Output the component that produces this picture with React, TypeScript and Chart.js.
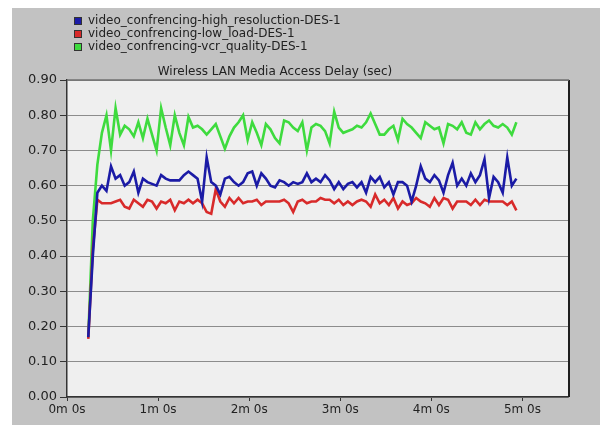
import { useEffect, useRef } from "react";
import { Chart, registerables } from "chart.js";

Chart.register(...registerables);

// Simulation time (seconds)
const times = [
  14, 17, 20, 23, 26, 29, 32, 35, 38, 41,
  44, 47, 50, 53, 56, 59, 62, 65, 68, 71,
  74, 77, 80, 83, 86, 89, 92, 95, 98, 101,
  104, 107, 110, 113, 116, 119, 122, 125, 128, 131,
  134, 137, 140, 143, 146, 149, 152, 155, 158, 161,
  164, 167, 170, 173, 176, 179, 182, 185, 188, 191,
  194, 197, 200, 203, 206, 209, 212, 215, 218, 221,
  224, 227, 230, 233, 236, 239, 242, 245, 248, 251,
  254, 257, 260, 263, 266, 269, 272, 275, 278, 281,
  284, 287, 290, 293, 296,
];

const highResolution = [
  0.17, 0.40, 0.58, 0.60, 0.585, 0.655, 0.62, 0.63, 0.60, 0.61,
  0.64, 0.58, 0.62, 0.61, 0.605, 0.60, 0.63, 0.62, 0.615, 0.615,
  0.615, 0.63, 0.64, 0.63, 0.62, 0.555, 0.68, 0.61, 0.60, 0.575,
  0.62, 0.625, 0.61, 0.60, 0.61, 0.635, 0.64, 0.60, 0.635, 0.62,
  0.60, 0.595, 0.615, 0.61, 0.60, 0.61, 0.605, 0.61, 0.635, 0.61,
  0.62, 0.61, 0.63, 0.615, 0.59, 0.61, 0.59, 0.605, 0.61, 0.595,
  0.61, 0.58, 0.625, 0.61, 0.625, 0.595, 0.61, 0.575, 0.61, 0.61,
  0.60, 0.555, 0.60, 0.655, 0.62, 0.61, 0.63, 0.615, 0.58, 0.63,
  0.665, 0.60, 0.62, 0.60, 0.635, 0.61, 0.63, 0.675, 0.565, 0.625,
  0.61, 0.58, 0.68, 0.60, 0.62,
];

const lowLoad = [
  0.165, 0.42, 0.56, 0.55, 0.55, 0.55, 0.555, 0.56, 0.54, 0.535,
  0.56, 0.55, 0.54, 0.56, 0.555, 0.535, 0.555, 0.55, 0.56, 0.53,
  0.555, 0.55, 0.56, 0.55, 0.56, 0.55, 0.525, 0.52, 0.59, 0.555,
  0.54, 0.565, 0.55, 0.565, 0.55, 0.555, 0.555, 0.56, 0.545, 0.555,
  0.555, 0.555, 0.555, 0.56, 0.55, 0.525, 0.555, 0.56, 0.55, 0.555,
  0.555, 0.565, 0.56, 0.56, 0.55, 0.56, 0.545, 0.555, 0.545, 0.555,
  0.56, 0.555, 0.54, 0.575, 0.55, 0.56, 0.545, 0.565, 0.535, 0.555,
  0.545, 0.55, 0.565, 0.555, 0.55, 0.54, 0.565, 0.545, 0.565, 0.56,
  0.535, 0.555, 0.555, 0.555, 0.545, 0.56, 0.545, 0.56, 0.555, 0.555,
  0.555, 0.555, 0.545, 0.555, 0.53,
];

const vcrQuality = [
  0.17, 0.50, 0.66, 0.75, 0.80, 0.70, 0.82, 0.745, 0.77, 0.76,
  0.74, 0.78, 0.735, 0.79, 0.745, 0.70, 0.82, 0.765, 0.715, 0.80,
  0.75, 0.715, 0.795, 0.765, 0.77, 0.76, 0.745, 0.76, 0.775, 0.74,
  0.705, 0.74, 0.765, 0.78, 0.80, 0.73, 0.78, 0.75, 0.715, 0.775,
  0.76, 0.735, 0.72, 0.785, 0.78, 0.765, 0.755, 0.78, 0.70, 0.765,
  0.775, 0.77, 0.755, 0.72, 0.81, 0.765, 0.75, 0.755, 0.76, 0.77,
  0.765, 0.78, 0.805, 0.775, 0.745, 0.745, 0.76, 0.77, 0.73, 0.79,
  0.775, 0.765, 0.75, 0.735, 0.78, 0.77, 0.76, 0.765, 0.72, 0.775,
  0.77, 0.76, 0.78, 0.75, 0.745, 0.78, 0.76, 0.775, 0.785, 0.77,
  0.765, 0.775, 0.765, 0.745, 0.78,
];

const seriesNames = [
  "video_confrencing-high_resoluction-DES-1",
  "video_confrencing-low_load-DES-1",
  "video_confrencing-vcr_quality-DES-1",
];
const seriesColors = ["#1b1ba6", "#d82a2a", "#3edb3e"];
const xTickLabels = ["0m 0s", "1m 0s", "2m 0s", "3m 0s", "4m 0s", "5m 0s"];
const chartTitle = "Wireless LAN Media Access Delay (sec)";

const FONT = '"DejaVu Sans", "Liberation Sans", Arial, sans-serif';

const chromePlugin = {
  id: "chrome",
  beforeDraw(chart: any) {
    const { ctx, chartArea: a } = chart;
    ctx.save();
    ctx.fillStyle = "#ffffff";
    ctx.fillRect(0, 0, chart.width, chart.height);
    ctx.fillStyle = "#c2c2c2";
    ctx.fillRect(12, 8, chart.width - 12, chart.height - 8);
    ctx.fillStyle = "#efefef";
    ctx.fillRect(a.left, a.top, a.right - a.left, a.bottom - a.top);
    ctx.restore();
  },
  afterDraw(chart: any) {
    const { ctx, chartArea: a } = chart;
    ctx.save();
    // right frame edge
    ctx.strokeStyle = "#1e1e1e";
    ctx.lineWidth = 2;
    ctx.beginPath();
    ctx.moveTo(a.right + 1, a.top);
    ctx.lineTo(a.right + 1, a.bottom);
    ctx.stroke();
    // top frame edge
    ctx.strokeStyle = "#707070";
    ctx.lineWidth = 1.5;
    ctx.beginPath();
    ctx.moveTo(a.left, a.top);
    ctx.lineTo(a.right + 1, a.top);
    ctx.stroke();
    // legend
    ctx.font = `12px ${FONT}`;
    ctx.textBaseline = "middle";
    ctx.textAlign = "left";
    chart.data.datasets.forEach((ds: any, i: number) => {
      const y = 21 + i * 13;
      ctx.fillStyle = ds.borderColor;
      ctx.fillRect(74, y - 4, 8, 8);
      ctx.strokeStyle = "#333";
      ctx.lineWidth = 1;
      ctx.strokeRect(74.5, y - 3.5, 7, 7);
      ctx.fillStyle = "#222";
      ctx.fillText(ds.label, 88, y);
    });
    // title
    ctx.textAlign = "center";
    ctx.fillStyle = "#222";
    ctx.fillText(chartTitle, a.left + 208, a.top - 8);
    ctx.restore();
  },
};

export default function App() {
  const canvasRef = useRef<HTMLCanvasElement | null>(null);

  useEffect(() => {
    const canvas = canvasRef.current;
    if (!canvas) return;
    const series = [highResolution, lowLoad, vcrQuality];
    const chart = new Chart(canvas, {
      type: "line",
      data: {
        datasets: series.map((vals, i) => ({
          label: seriesNames[i],
          data: times.map((t, j) => ({ x: t, y: vals[j] })),
          borderColor: seriesColors[i],
          backgroundColor: seriesColors[i],
          borderWidth: 2.6,
          pointRadius: 0,
          tension: 0,
          fill: false,
        })),
      },
      options: {
        responsive: false,
        maintainAspectRatio: false,
        animation: false,
        layout: { padding: { top: 80, right: 32, left: 0, bottom: 0 } },
        plugins: {
          legend: { display: false },
          title: { display: false },
          tooltip: { enabled: false },
        },
        scales: {
          x: {
            type: "linear",
            min: 0,
            max: 330,
            afterFit: (scale: any) => {
              scale.height = 28;
            },
            afterBuildTicks: (scale: any) => {
              scale.ticks = scale.ticks.filter((t: any) => t.value % 60 === 0);
            },
            ticks: {
              stepSize: 60,
              autoSkip: false,
              maxRotation: 0,
              padding: 2,
              color: "#222",
              font: { family: FONT, size: 12 },
              callback: (v: any) => xTickLabels[Math.round(Number(v) / 60)] ?? "",
            },
            grid: {
              drawOnChartArea: false,
              drawTicks: true,
              tickLength: 4,
              tickColor: "#333",
            },
            border: { color: "#333", width: 1.5 },
          },
          y: {
            type: "linear",
            min: 0,
            max: 0.9,
            afterFit: (scale: any) => {
              scale.width = 67;
            },
            ticks: {
              stepSize: 0.1,
              padding: 3,
              color: "#222",
              font: { family: FONT, size: 13 },
              callback: (v: any) => Number(v).toFixed(2),
            },
            grid: {
              color: "#8c8c8c",
              lineWidth: 1,
              drawTicks: true,
              tickLength: 7,
              tickColor: "#333",
            },
            border: { color: "#333", width: 1.5 },
          },
        },
      },
      plugins: [chromePlugin],
    });
    return () => chart.destroy();
  }, []);

  return (
    <div style={{ position: "absolute", left: 0, top: 0, width: 600, height: 425 }}>
      <canvas ref={canvasRef} width={600} height={425} style={{ display: "block" }} />
    </div>
  );
}
